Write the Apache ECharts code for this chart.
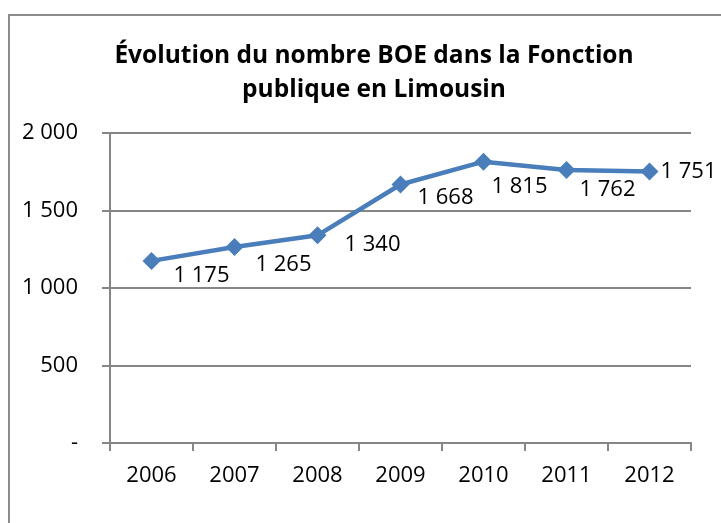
<!DOCTYPE html>
<html>
<head>
<meta charset="UTF-8">
<title>Évolution du nombre BOE</title>
<script src="https://cdn.jsdelivr.net/npm/echarts@6/dist/echarts.min.js"></script>
<style>
	html, body { margin: 0; padding: 0; background: #fff; }
	#chart { width: 721px; height: 523px; }
</style>
</head>
<body>
<div id="chart"></div>
<script>
// donnees
var years = ['2006', '2007', '2008', '2009', '2010', '2011', '2012'];
var boe = [1175, 1265, 1340, 1668, 1815, 1762, 1751];
// decalage des etiquettes [dx, dy] (placement comme dans l'original)
var labelShift = [[13, 15], [12, 18], [18, 9], [8, 13], [-1, 25], [4, 20], [2, 0]];

function fmt(v) {
	if (v === 0) return '-';
	return String(v).replace(/\B(?=(\d{3})+(?!\d))/g, ' ');
}

var chart = echarts.init(document.getElementById('chart'));
var font = '"Open Sans", Lato, sans-serif';

var pts = [];
for (var i = 0; i < boe.length; i++) {
	pts.push({
		value: boe[i],
		label: { offset: labelShift[i] }
	});
}

chart.setOption({
	animation: false,
	title: {
		text: 'Évolution du nombre BOE dans la Fonction\npublique en Limousin',
		left: 369,
		top: 34,
		textAlign: 'center',
		textStyle: { fontFamily: font, fontWeight: 'bold', fontSize: 24.5, color: '#000', lineHeight: 34 }
	},
	graphic: [{
		type: 'rect',
		shape: { x: 9, y: 15, width: 730, height: 530 },
		style: { fill: 'none', stroke: '#8c8c8c', lineWidth: 2 },
		silent: true
	}],
	grid: { left: 110, right: 30, top: 133, bottom: 80 },
	xAxis: {
		type: 'category',
		data: years,
		boundaryGap: true,
		axisLine: { lineStyle: { color: '#868686', width: 2 } },
		axisTick: { show: true, interval: 0, length: 8, lineStyle: { color: '#868686', width: 2 } },
		axisLabel: { margin: 22, fontFamily: font, fontSize: 22, color: '#000' }
	},
	yAxis: {
		type: 'value',
		min: 0,
		max: 2000,
		interval: 500,
		axisLine: { show: true, lineStyle: { color: '#868686', width: 2 } },
		axisTick: { show: true, length: 8, lineStyle: { color: '#868686', width: 2 } },
		splitLine: { lineStyle: { color: '#868686', width: 2 } },
		axisLabel: { margin: 32, fontFamily: font, fontSize: 22, color: '#000', formatter: fmt }
	},
	series: [{
		type: 'line',
		data: pts,
		symbol: 'diamond',
		symbolSize: 18,
		itemStyle: { color: '#4a7ebb' },
		lineStyle: { color: '#4a7ebb', width: 4.5 },
		label: {
			show: true,
			position: 'right',
			distance: 0,
			fontFamily: font,
			fontSize: 22,
			color: '#000',
			formatter: function (p) { return fmt(p.value); }
		}
	}]
});
</script>
</body>
</html>
